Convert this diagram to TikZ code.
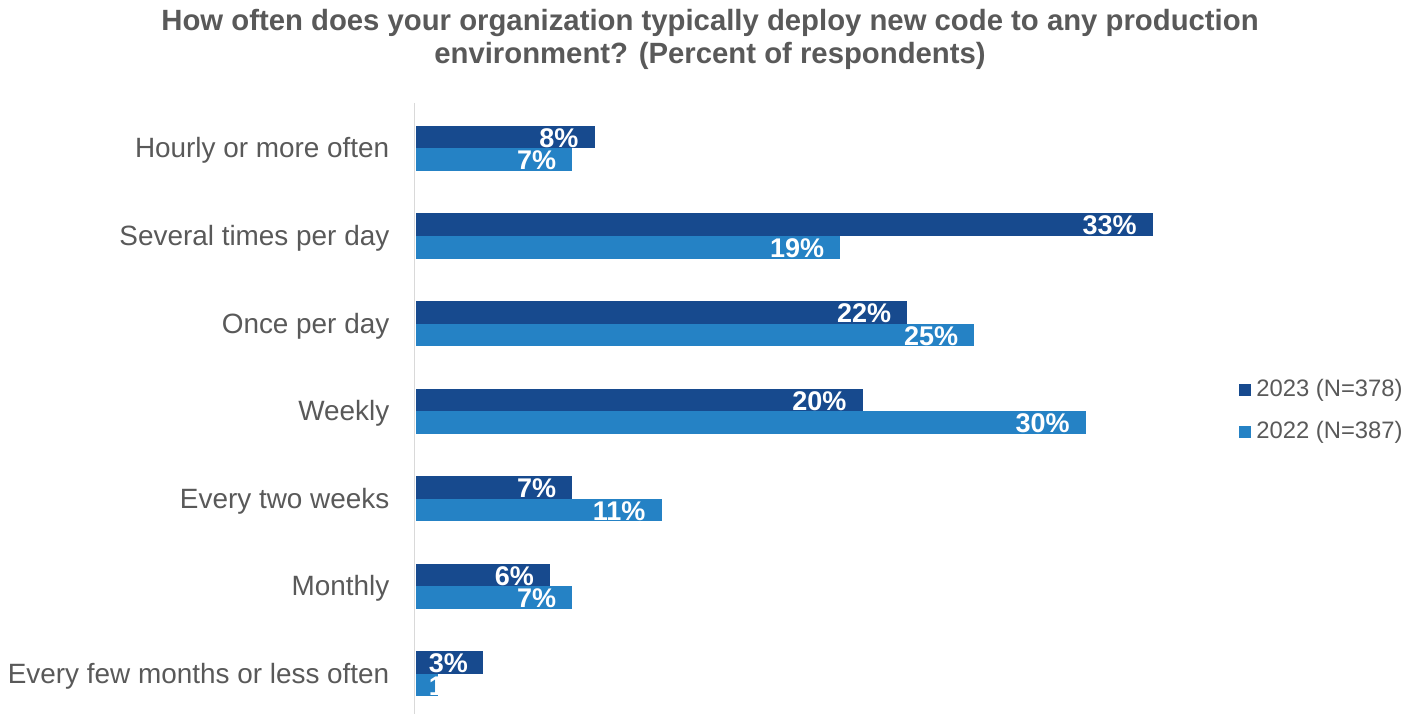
\documentclass[tikz,border=0pt]{standalone}
\usepackage{fontspec}
\setmainfont{Liberation Sans}
\usetikzlibrary{positioning}

\definecolor{bar2023}{HTML}{174A8E}
\definecolor{bar2022}{HTML}{2582C5}
\definecolor{txtgray}{HTML}{595959}
\definecolor{axisgray}{HTML}{D9D9D9}

\tikzset{
  catlabel/.style={anchor=base east,inner sep=0pt,text=txtgray,font=\fontsize{27.9}{33}\selectfont},
  vallabel/.style={anchor=base east,inner sep=0pt,text=white,font=\bfseries\fontsize{27}{32}\selectfont},
  titlelabel/.style={anchor=base,inner sep=0pt,text=txtgray,font=\bfseries\fontsize{29.3}{34}\selectfont},
  legkey/.style={minimum size=12pt,inner sep=0pt},
  legtext/.style={inner sep=0pt,anchor=west,text=txtgray,font=\fontsize{23.8}{28}\selectfont}
}

\begin{document}
\begin{tikzpicture}[x=1pt,y=-1pt]
\useasboundingbox (0,0) rectangle (1419,714);

\def\labels{Hourly or more often, Several times per day, Once per day, Weekly, Every two weeks, Monthly, Every few months or less often}
\def\newyear{8,33,22,20,7,6,3}
\def\oldyear{7,19,25,30,11,7,1}
\def\cZoom{22.33}   % px per percent
\def\xZero{416}
\def\yTop{126}
\def\catStep{87.5}
\def\barH{22.5}

% title
\node[titlelabel] (title1) at (710,31) {How often does your organization typically deploy new code to any production};
\node[titlelabel] (title2) at (710,64) {environment? (Percent of respondents)};

% vertical axis
\draw[axisgray, line width=1.5pt] (414.5,103) -- (414.5,714);

% category names
\foreach \n [count=\ni] in \labels
{
  \pgfmathsetmacro\yMid{\yTop+(\ni-1)*\catStep+\barH}
  \node[catlabel] (cat\ni) at (389.5,\yMid+9.5) {\n};
}

% bars 2023
\foreach \v [count=\ni] in \newyear
{
  \pgfmathsetmacro\yA{\yTop+(\ni-1)*\catStep}
  \pgfmathsetmacro\xEnd{\xZero+\v*\cZoom}
  \pgfmathsetmacro\xLab{max(\xEnd-16,468)}
  \fill[bar2023] (\xZero,\yA) rectangle (\xEnd,\yA+\barH);
  \node[vallabel] (new\ni) at (\xLab,\yA+\barH-1) {\v\%};
}

% bars 2022
\foreach \v [count=\ni] in \oldyear
{
  \pgfmathsetmacro\yA{\yTop+(\ni-1)*\catStep+\barH}
  \pgfmathsetmacro\xEnd{\xZero+\v*\cZoom}
  \pgfmathsetmacro\xLab{max(\xEnd-16,468)}
  \fill[bar2022] (\xZero,\yA) rectangle (\xEnd,\yA+\barH);
  \node[vallabel] (old\ni) at (\xLab,\yA+\barH-1) {\v\%};
}

% legend
\node[legkey,fill=bar2023] (key2023) at (1245,390) {};
\node[legtext,right=5pt of key2023] (leg2023) {2023 (N=378)};
\node[legkey,fill=bar2022] (key2022) at (1245,432) {};
\node[legtext,right=5pt of key2022] (leg2022) {2022 (N=387)};

\end{tikzpicture}
\end{document}
